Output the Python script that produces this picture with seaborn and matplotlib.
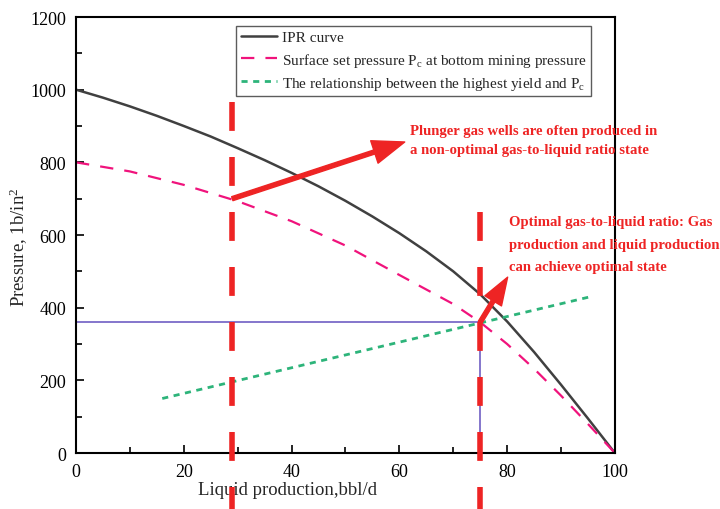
import matplotlib
matplotlib.use("Agg")
import matplotlib.pyplot as plt
import seaborn as sns
import pandas as pd
from matplotlib.ticker import MultipleLocator

# IPR curve
ipr_q = [0, 5, 10, 15, 20, 25, 30, 35, 40, 45, 50, 55, 60, 65, 70, 75, 80, 85, 90, 95, 100]
ipr_p = [1000, 978, 954, 928, 900, 871, 839, 806, 771, 734, 694, 651, 605, 555, 500, 437, 362, 278, 188, 95, 0]

# surface set pressure Pc at bottom mining pressure
pc_q = [0, 10, 20, 30, 40, 50, 60, 70, 75, 80, 85, 90, 95, 100]
pc_p = [800, 775, 738, 693, 638, 571, 490, 410, 360, 300, 232, 158, 80, 0]

# relationship between highest yield and Pc
gy_q = [16, 96]
gy_p = [150, 432]

# operating point
op_q = 75
op_p = 360

# red marker lines
red_x = [29, 75]
red_top = [966, 663]

legend_labels = ["IPR curve",
                 r"Surface set pressure P$_\mathrm{c}$ at bottom mining pressure",
                 r"The relationship between the highest yield and P$_\mathrm{c}$"]
note1 = "Plunger gas wells are often produced in\na non-optimal gas-to-liquid ratio state"
note2 = "Optimal gas-to-liquid ratio: Gas\nproduction and liquid production\ncan achieve optimal state"

sns.set_theme(style="ticks")
plt.rcParams["font.family"] = ["Liberation Serif", "DejaVu Serif"]
plt.rcParams["mathtext.fontset"] = "custom"
plt.rcParams["mathtext.rm"] = "Liberation Serif"
plt.rcParams["mathtext.it"] = "Liberation Serif:italic"

red = "#EE2424"

fig, ax = plt.subplots(figsize=(7.2, 5.1), dpi=100)
fig.subplots_adjust(left=0.1056, right=0.854, top=0.9647, bottom=0.1098)

df_ipr = pd.DataFrame({"q": ipr_q, "p": ipr_p})
df_pc = pd.DataFrame({"q": pc_q, "p": pc_p})
df_gy = pd.DataFrame({"q": gy_q, "p": gy_p})

sns.lineplot(data=df_ipr, x="q", y="p", ax=ax, color="#404040", lw=1.8,
             label=legend_labels[0], sort=False)
sns.lineplot(data=df_pc, x="q", y="p", ax=ax, color="#F0137C", lw=1.6,
             label=legend_labels[1], sort=False)
ax.lines[-1].set_linestyle((0, (6, 5)))
sns.lineplot(data=df_gy, x="q", y="p", ax=ax, color="#2DB47A", lw=2.0,
             label=legend_labels[2], sort=False)
ax.lines[-1].set_linestyle((0, (2.2, 2)))

# purple operating-point lines
ax.plot([0, op_q, op_q], [op_p, op_p, 0], color="#6F5FC4", lw=1.2, zorder=1)

# red vertical dashed lines running past the axes
for x, top in zip(red_x, red_top):
    ax.plot([x, x], [top, -165], color=red, lw=4, ls=(0, (5.2, 4.7)),
            clip_on=False, zorder=4, solid_capstyle="butt", dash_capstyle="butt")

# arrows
ax.annotate("", xy=(61, 856), xytext=(29, 700),
            arrowprops=dict(facecolor=red, edgecolor=red, width=3,
                            headwidth=17, headlength=23), zorder=5)
ax.annotate("", xy=(80.1, 484), xytext=(75, 360),
            arrowprops=dict(facecolor=red, edgecolor=red, width=3,
                            headwidth=14, headlength=20), zorder=5)

ax.text(62, 862, note1, color=red, fontsize=10.6, fontweight="bold",
        ha="left", va="center", linespacing=1.55)
ax.text(80.3, 575, note2, color=red, fontsize=10.6, fontweight="bold",
        ha="left", va="center", linespacing=1.95, clip_on=False)

ax.set_xlim(0, 100)
ax.set_ylim(0, 1200)
ax.xaxis.set_major_locator(MultipleLocator(20))
ax.xaxis.set_minor_locator(MultipleLocator(10))
ax.yaxis.set_major_locator(MultipleLocator(200))
ax.yaxis.set_minor_locator(MultipleLocator(100))
ax.tick_params(which="both", direction="in", top=False, right=False,
               colors="black", labelsize=13, width=1.2)
ax.tick_params(which="major", length=5.5, pad=7)
ax.tick_params(which="minor", length=4)
for s in ax.spines.values():
    s.set_visible(True)
    s.set_linewidth(1.5)
    s.set_color("black")

ax.set_xlabel("Liquid production,bbl/d", fontsize=13.5)
ax.set_ylabel(r"Pressure, 1b/in$^2$", fontsize=13.5)
ax.xaxis.set_label_coords(0.393, -0.064)
ax.yaxis.set_label_coords(-0.085, 0.475)

leg = ax.legend(loc="upper left", bbox_to_anchor=(0.297, 0.979), fontsize=11,
                frameon=True, fancybox=False, edgecolor="#333333",
                handlelength=2.4, handletextpad=0.3, labelspacing=0.4,
                borderpad=0.3, borderaxespad=0)
leg.get_frame().set_linewidth(1.0)

fig.savefig("out.png", dpi=100)
